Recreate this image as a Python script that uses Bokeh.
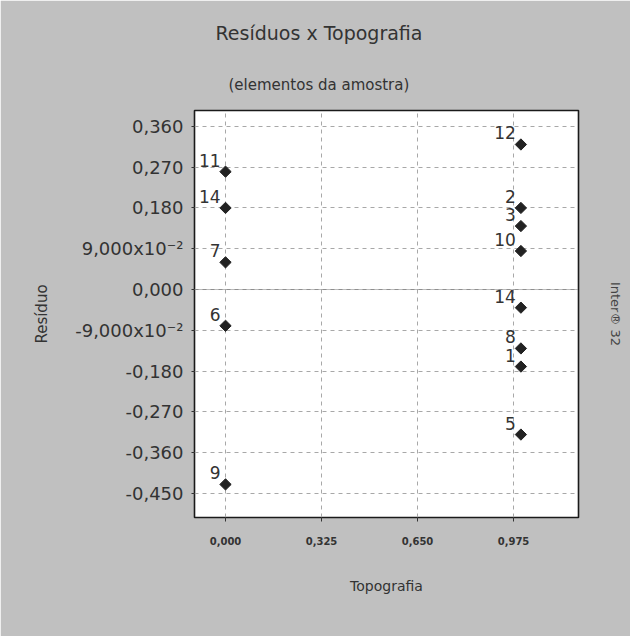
import math
from bokeh.plotting import figure
from bokeh.models import LabelSet, FixedTicker, Span, Range1d, ColumnDataSource, Title, LinearAxis
from bokeh.core.properties import value
from bokeh.embed import file_html
from bokeh.resources import INLINE

# ---- data ----
point_labels = ["11", "14", "7", "6", "9", "12", "2", "3", "10", "14", "8", "1", "5"]
topografia = [0, 0, 0, 0, 0, 1, 1, 1, 1, 1, 1, 1, 1]
residuo = [0.26, 0.18, 0.06, -0.08, -0.43, 0.32, 0.18, 0.14, 0.085, -0.04, -0.13, -0.17, -0.32]

x_ticks = [0.0, 0.325, 0.65, 0.975]
x_tick_labels = ["0,000", "0,325", "0,650", "0,975"]
y_ticks = [0.36, 0.27, 0.18, 0.09, 0.0, -0.09, -0.18, -0.27, -0.36, -0.45]
y_tick_labels = ["0,360", "0,270", "0,180", "9,000x10\u207b\u00b2", "0,000",
                 "-9,000x10\u207b\u00b2", "-0,180", "-0,270", "-0,360", "-0,450"]

title_text = "Resíduos x Topografia"
subtitle_text = "(elementos da amostra)"
x_label = "Topografia"
y_label = "Resíduo"
side_text = "Inter® 32"

W, H = 630, 636
BG = "#c0c0c0"
FONT = "DejaVu Sans"
TXT = "#333333"

p = figure(width=W, height=H, output_backend="svg", toolbar_location=None,
           x_range=Range1d(-0.105, 1.195), y_range=Range1d(-0.503, 0.395),
           min_border_left=194, min_border_right=52, min_border_top=110, min_border_bottom=119)
p.border_fill_color = BG
p.background_fill_color = "white"
p.outline_line_color = "#1a1a1a"
p.outline_line_width = 1.6

# axes
xa = p.xaxis[0]
xa.ticker = FixedTicker(ticks=x_ticks)
xa.major_label_overrides = {t: l for t, l in zip(x_ticks, x_tick_labels)}
xa.major_label_text_font = FONT
xa.major_label_text_font_size = "10px"
xa.major_label_text_font_style = "bold"
xa.major_label_text_color = TXT
xa.major_label_standoff = 15
xa.minor_tick_line_color = None
xa.major_tick_out = 4
xa.major_tick_in = 0
xa.axis_line_color = None
xa.major_tick_line_color = TXT
xa.axis_label = x_label
xa.axis_label_text_font = FONT
xa.axis_label_text_font_size = "14px"
xa.axis_label_text_font_style = "normal"
xa.axis_label_text_color = TXT
xa.axis_label_standoff = 30

ya = p.yaxis[0]
ya.ticker = FixedTicker(ticks=y_ticks)
ya.major_label_overrides = {t: l for t, l in zip(y_ticks, y_tick_labels)}
ya.major_label_text_font = FONT
ya.major_label_text_font_size = "18px"
ya.major_label_text_color = TXT
ya.major_label_standoff = 8
ya.minor_tick_line_color = None
ya.major_tick_out = 3
ya.major_tick_in = 0
ya.axis_line_color = None
ya.major_tick_line_color = TXT
ya.axis_label = y_label
ya.axis_label_text_font = FONT
ya.axis_label_text_font_size = "15px"
ya.axis_label_text_font_style = "normal"
ya.axis_label_text_color = TXT
ya.axis_label_standoff = 21

# right-side annotation as the label of a tickless right axis
ra = LinearAxis(ticker=FixedTicker(ticks=[]), axis_line_color=None, major_tick_line_color=None,
                minor_tick_line_color=None, major_tick_out=0, major_tick_in=0, major_label_standoff=0,
                axis_label=side_text, axis_label_standoff=29, axis_label_text_font=FONT,
                axis_label_text_font_size="13px", axis_label_text_font_style="normal",
                axis_label_text_color="#444444")
p.add_layout(ra, "right")

# grid
for g in (p.xgrid[0], p.ygrid[0]):
    g.grid_line_color = "#a8a8a8"
    g.grid_line_dash = "4 4"
    g.grid_line_width = 1

p.add_layout(Span(location=0, dimension="width", line_color="#777777", line_width=1, line_dash="1 1"))

src = ColumnDataSource(dict(x=topografia, y=residuo, lab=point_labels))
p.scatter("x", "y", source=src, marker="square", angle=math.pi / 4, size=8,
          fill_color="#222222", line_color="#222222")
p.add_layout(LabelSet(x="x", y="y", text="lab", source=src, text_align="right", text_baseline="bottom",
                      x_offset=-5, y_offset=5, text_font=value(FONT), text_font_size=value("17px"),
                      text_color=TXT))

# titles
p.add_layout(Title(text=subtitle_text, align="left", offset=34, text_font=FONT,
                   text_font_size="15px", text_font_style="normal", text_color=TXT, standoff=34), "above")
p.add_layout(Title(text=title_text, align="left", offset=21, text_font=FONT,
                   text_font_size="19px", text_font_style="normal", text_color=TXT, standoff=26), "above")

open("out.html", "w").write(file_html(p, INLINE))
